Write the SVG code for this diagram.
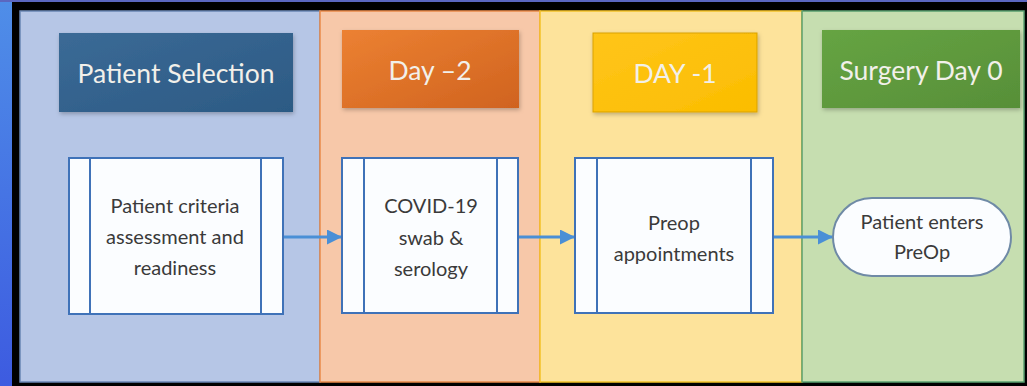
<svg xmlns="http://www.w3.org/2000/svg" width="1027" height="386" viewBox="0 0 1027 386">
<defs>
<linearGradient id="bgL" x1="0" y1="0" x2="0" y2="1"><stop offset="0" stop-color="#4f8ee8"/><stop offset="1" stop-color="#3d5be0"/></linearGradient>
<linearGradient id="gBlue" x1="0" y1="0" x2="1" y2="1"><stop offset="0" stop-color="#3b6a96"/><stop offset="1" stop-color="#2c5a84"/></linearGradient>
<linearGradient id="gOrange" x1="0" y1="0" x2="1" y2="1"><stop offset="0" stop-color="#ec8132"/><stop offset="1" stop-color="#d0631f"/></linearGradient>
<linearGradient id="gYellow" x1="0" y1="0" x2="1" y2="1"><stop offset="0" stop-color="#ffc51a"/><stop offset="1" stop-color="#fbbd00"/></linearGradient>
<linearGradient id="gGreen" x1="0" y1="0" x2="1" y2="1"><stop offset="0" stop-color="#66a443"/><stop offset="1" stop-color="#578f38"/></linearGradient>
<filter id="sh" x="-10%" y="-10%" width="120%" height="130%"><feDropShadow dx="1" dy="2" stdDeviation="2" flood-color="#000" flood-opacity="0.25"/></filter>
<marker id="ah" viewBox="0 0 10 10" refX="10" refY="5" markerWidth="5" markerHeight="5" orient="auto" markerUnits="strokeWidth"><path d="M0,0 L10,5 L0,10 Z" fill="#4a8fd6"/></marker>
</defs>
<style>
.hd{font-family:Lato,"Liberation Sans",sans-serif;font-size:26.5px;fill:#f2f0ea;text-anchor:middle;dominant-baseline:central}
.tx{font-family:Lato,"Liberation Sans",sans-serif;font-size:20px;fill:#3a3a3a;text-anchor:middle;dominant-baseline:central}
.pb{fill:#fbfdff;stroke:#3f72b8;stroke-width:2}
.pl{stroke:#3f72b8;stroke-width:2}
.cn{stroke:#4a8fd6;stroke-width:3;fill:none;marker-end:url(#ah)}
</style>
<rect x="0" y="0" width="1027" height="386" fill="#000"/>
<rect x="0" y="0" width="12" height="386" fill="url(#bgL)"/>
<rect x="0" y="0" width="1027" height="2" fill="#5b67c0"/>
<g id="lanes">
<rect x="20" y="11" width="300" height="371" fill="#b6c6e6" stroke="#6a86b4" stroke-width="1.5"/>
<rect x="320" y="11" width="220" height="371" fill="#f7c8a9" stroke="#ea8a4a" stroke-width="1.5"/>
<rect x="540" y="11" width="262" height="371" fill="#fde39b" stroke="#f3c228" stroke-width="1.5"/>
<rect x="802" y="11" width="222" height="371" fill="#c6deb0" stroke="#5aa070" stroke-width="1.5"/>
</g>
<g id="h1"><rect x="59" y="33" width="234" height="79" fill="url(#gBlue)" filter="url(#sh)"/><text class="hd" x="176" y="73">Patient Selection</text></g>
<g id="h2"><rect x="342" y="30" width="177" height="78" fill="url(#gOrange)" filter="url(#sh)"/><text class="hd" x="430" y="70">Day –2</text></g>
<g id="h3"><rect x="593" y="33" width="164" height="79" fill="url(#gYellow)" stroke="#d9a100" stroke-width="1" filter="url(#sh)"/><text class="hd" x="675" y="73" fill="#fdf3d2">DAY -1</text></g>
<g id="h4"><rect x="822" y="30" width="198" height="78" fill="url(#gGreen)" filter="url(#sh)"/><text class="hd" x="921" y="70">Surgery Day 0</text></g>
<g id="connectors">
<line class="cn" x1="284" y1="237" x2="342" y2="237"/>
<line class="cn" x1="519" y1="237" x2="575" y2="237"/>
<line class="cn" x1="774" y1="237" x2="833" y2="237"/>
</g>
<g id="p1"><rect class="pb" x="69" y="158" width="214" height="156"/><line class="pl" x1="90" y1="158" x2="90" y2="314"/><line class="pl" x1="261" y1="158" x2="261" y2="314"/>
<text class="tx" x="175" y="205">Patient criteria</text><text class="tx" x="175" y="236">assessment and</text><text class="tx" x="175" y="267">readiness</text></g>
<g id="p2"><rect class="pb" x="342" y="158" width="176" height="155"/><line class="pl" x1="364" y1="158" x2="364" y2="313"/><line class="pl" x1="497" y1="158" x2="497" y2="313"/>
<text class="tx" x="431" y="205">COVID-19</text><text class="tx" x="431" y="237">swab &amp;</text><text class="tx" x="431" y="268">serology</text></g>
<g id="p3"><rect class="pb" x="575" y="158" width="198" height="155"/><line class="pl" x1="597" y1="158" x2="597" y2="313"/><line class="pl" x1="751" y1="158" x2="751" y2="313"/>
<text class="tx" x="674" y="222">Preop</text><text class="tx" x="674" y="253">appointments</text></g>
<g id="p4"><rect x="833" y="198" width="178" height="78" rx="39" ry="39" fill="#fbfdff" stroke="#6f8aa6" stroke-width="2"/>
<text class="tx" x="922" y="221">Patient enters</text><text class="tx" x="922" y="251">PreOp</text></g>
</svg>
